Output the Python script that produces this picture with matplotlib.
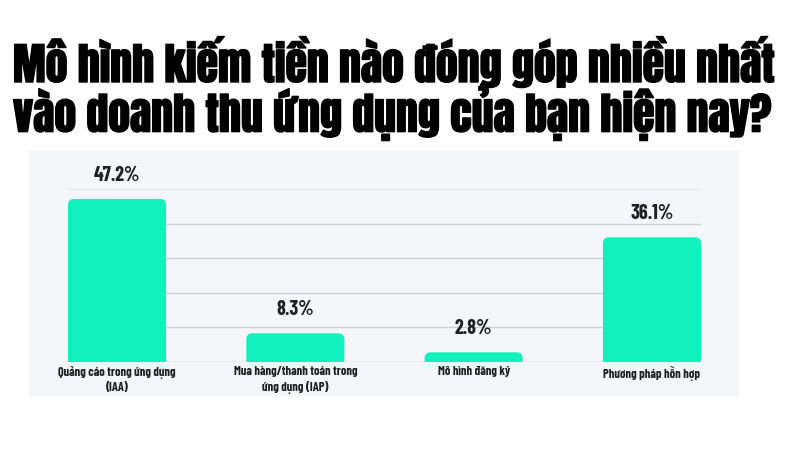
import matplotlib
matplotlib.use("Agg")
import matplotlib.pyplot as plt
from matplotlib import font_manager
from matplotlib.patches import FancyBboxPatch, Rectangle
import matplotlib.patheffects as pe

categories = ["Quảng cáo trong ứng dụng\n(IAA)",
              "Mua hàng/thanh toán trong\nứng dụng (IAP)",
              "Mô hình đăng ký",
              "Phương pháp hỗn hợp"]
values = [47.2, 8.3, 2.8, 36.1]
value_labels = ["47.2%", "8.3%", "2.8%", "36.1%"]
title_lines = ["Mô hình kiếm tiền nào đóng góp nhiều nhất",
               "vào doanh thu ứng dụng của bạn hiện nay?"]
grid_levels = [10, 20, 30, 40]

names = {f.name for f in font_manager.fontManager.ttflist}
def pick(cands):
    for c in cands:
        if c in names:
            return [c, "DejaVu Sans"]
    return ["DejaVu Sans"]

TITLE_FONT = pick(["Anton", "Oswald", "Fjalla One", "Roboto Condensed",
                   "Barlow Condensed", "Liberation Sans Narrow"])
LABEL_FONT = pick(["Barlow Condensed", "Roboto Condensed", "Saira Condensed",
                   "Oswald", "Liberation Sans Narrow"])

BAR = "#10F1BE"
TXT = "#1d2025"

fig = plt.figure(figsize=(8, 4.5), dpi=100)
fig.patch.set_facecolor("white")

panel = Rectangle((29/800, 1-396/450), (739-29)/800, (396-150)/450,
                  transform=fig.transFigure, facecolor="#f4f6f9",
                  edgecolor="none", zorder=-5)
fig.patches.append(panel)

ax = fig.add_axes([68/800, 1-362/450, (701-68)/800, 190/450])
ax.set_zorder(2)
ax.set_facecolor("none")
ax.set_xlim(-0.275, 3.275)
ax.set_ylim(0, 55)
for s in ax.spines.values():
    s.set_visible(False)
ax.set_xticks([]); ax.set_yticks([])

for g in grid_levels:
    ax.axhline(g, color="#cdd1d6", lw=1.0, zorder=1)
ax.axhline(50, color="#e6e9ed", lw=1.0, zorder=1)
ax.axhline(0, color="#cdd1d6", lw=1.0, zorder=1)

bars = ax.bar(range(len(values)), values, width=0.55, color=BAR, zorder=2)
xpx = 633 / 3.55
ypx = 190 / 55
for i, b in enumerate(bars):
    b.set_visible(False)
    x, w, h = b.get_x(), b.get_width(), b.get_height()
    r = 6 / xpx
    p = FancyBboxPatch((x, -3), w, h + 3,
                       boxstyle=f"round,pad=0,rounding_size={r}",
                       mutation_aspect=xpx / ypx, facecolor=BAR,
                       edgecolor="none", zorder=2, clip_on=True)
    ax.add_patch(p)
    ax.annotate(value_labels[i], (x + w/2, h),
                xytext=(0, 14), textcoords="offset pixels",
                ha="center", va="bottom", fontsize=14.5, fontweight="bold",
                family=LABEL_FONT, color=TXT, annotation_clip=False)

for i, c in enumerate(categories):
    ax.annotate(c, (i, 0), xytext=(0, -4), textcoords="offset pixels",
                ha="center", va="top", fontsize=9, fontweight="bold",
                family=LABEL_FONT, color=TXT, linespacing=1.35,
                annotation_clip=False)

title = fig.text(13/800, 1-36/450, "\n".join(title_lines), ha="left", va="top",
                 fontsize=34, family=TITLE_FONT, color="black",
                 linespacing=0.95,
                 path_effects=[pe.withStroke(linewidth=1.0, foreground="black")])
fig.canvas.draw()
rend = fig.canvas.get_renderer()
bb = title.get_window_extent(rend)
title.set_fontsize(34 * 763 / bb.width)

fig.savefig("out.png", dpi=100, facecolor="white")
